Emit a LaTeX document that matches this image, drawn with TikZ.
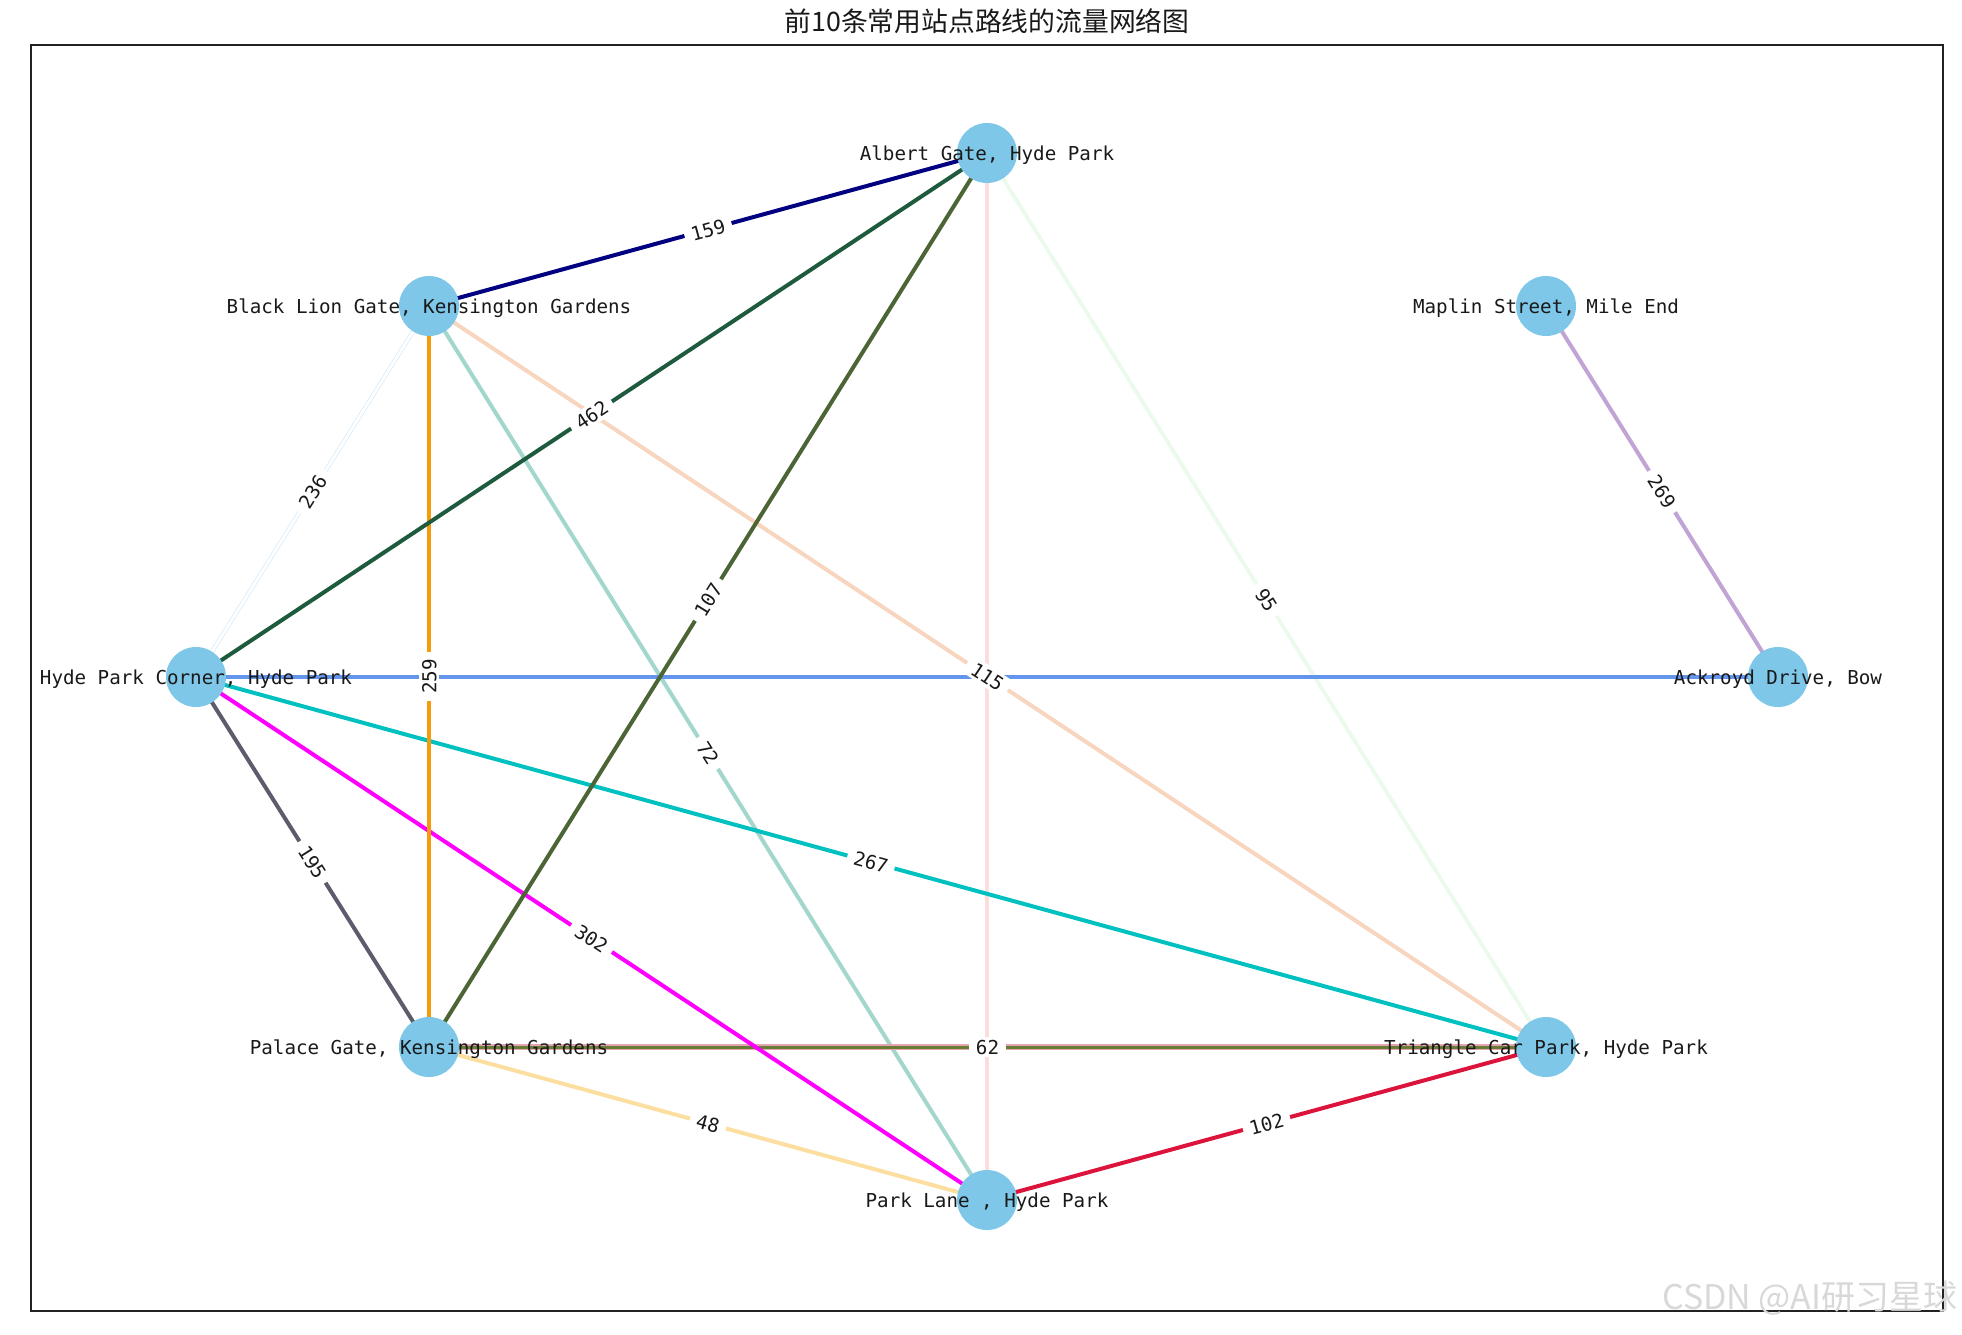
\documentclass[tikz,border=0pt]{standalone}
\usepackage{fontspec}
\setmonofont{DejaVu Sans Mono}
\newfontfamily\cjk{Noto Sans CJK SC}
\definecolor{nodeblue}{HTML}{7EC7E8}
\definecolor{cNavy}{HTML}{000080}
\definecolor{cDkGreen}{HTML}{1E5B3E}
\definecolor{cOlive}{HTML}{4B6535}
\definecolor{cRose}{HTML}{FCDCDC}
\definecolor{cHoney}{HTML}{ECFAEC}
\definecolor{cAlice}{HTML}{D4EAFA}
\definecolor{cOrange}{HTML}{F59B0C}
\definecolor{cTeal}{HTML}{A3D6CC}
\definecolor{cPeach}{HTML}{F8D5BF}
\definecolor{cLav}{HTML}{C0A4D6}
\definecolor{cCorn}{HTML}{6495ED}
\definecolor{cCyan}{HTML}{00C0C0}
\definecolor{cGray}{HTML}{5C5C6C}
\definecolor{cMag}{HTML}{FF00FF}
\definecolor{cPink}{HTML}{E4A4B2}
\definecolor{cOlv}{HTML}{687C34}
\definecolor{cNavajo}{HTML}{FCDFA0}
\definecolor{cCrimson}{HTML}{DC143C}
\definecolor{frame}{HTML}{222222}
\definecolor{wm}{HTML}{D8D8D8}
\tikzset{
  edge/.style={line width=2pt},
  stn/.style={circle, fill=nodeblue, draw=none, minimum size=30pt, inner sep=0pt},
  nlab/.style={font=\ttfamily\fontsize{9.6}{11}\selectfont, text=black!90, text height=0.73em, text depth=0pt, inner sep=0pt, anchor=center},
  elab/.style={sloped, fill=white, inner xsep=3.5pt, inner ysep=1.5pt, font=\ttfamily\fontsize{9.6}{11}\selectfont, text=black!90, text height=0.73em, text depth=0pt, anchor=center}
}
\begin{document}
\begin{tikzpicture}[x=0.5pt,y=-0.5pt]
\useasboundingbox (0,0) rectangle (1962,1334);
% node centres
\coordinate (A) at (987,153);
\coordinate (BL) at (429,306);
\coordinate (MS) at (1546,306);
\coordinate (HPC) at (196,677);
\coordinate (AD) at (1778,677);
\coordinate (PG) at (429,1047);
\coordinate (TC) at (1546,1047);
\coordinate (PL) at (987,1200);
% frame and title
\draw[frame, line width=1pt] (31,45) rectangle (1943,1311);
\node[font=\cjk\fontsize{13.4}{15}\selectfont, text=black!90, anchor=center] (title) at (987,21) {前10条常用站点路线的流量网络图};
% edges
\draw[edge, cAlice, line width=0.35pt, double=white, double distance=1.4pt] (BL) -- (HPC);
\draw[edge, cHoney] (A) -- (TC);
\draw[edge, cRose] (A) -- (PL);
\draw[edge, cPeach] (BL) -- (TC);
\draw[edge, cTeal] (BL) -- (PL);
\draw[edge, cNavajo] (PG) -- (PL);
\draw[edge, cLav] (MS) -- (AD);
\draw[edge, cCorn] (HPC) -- (AD);
\draw[edge, cPink, line width=2.6pt] (PG) -- (TC);
\draw[edge, cOlv, line width=1.5pt] (PG) -- (TC);
\draw[edge, cCyan] (HPC) -- (TC);
\draw[edge, cMag] (HPC) -- (PL);
\draw[edge, cGray] (HPC) -- (PG);
\draw[edge, cOrange] (PG) -- (BL);
\draw[edge, cDkGreen] (HPC) -- (A);
\draw[edge, cOlive] (PG) -- (A);
\draw[edge, cNavy] (BL) -- (A);
\draw[edge, cCrimson] (PL) -- (TC);
% stations
\node[stn] (nA) at (A) {};
\node[stn] (nBL) at (BL) {};
\node[stn] (nMS) at (MS) {};
\node[stn] (nHPC) at (HPC) {};
\node[stn] (nAD) at (AD) {};
\node[stn] (nPG) at (PG) {};
\node[stn] (nTC) at (TC) {};
\node[stn] (nPL) at (PL) {};
% station labels
\node[nlab] (tA) at (A) {Albert Gate, Hyde Park};
\node[nlab] (tBL) at (BL) {Black Lion Gate, Kensington Gardens};
\node[nlab] (tMS) at (MS) {Maplin Street, Mile End};
\node[nlab] (tHPC) at (HPC) {Hyde Park Corner, Hyde Park};
\node[nlab] (tAD) at (AD) {Ackroyd Drive, Bow};
\node[nlab] (tPG) at (PG) {Palace Gate, Kensington Gardens};
\node[nlab] (tTC) at (TC) {Triangle Car Park, Hyde Park};
\node[nlab] (tPL) at (PL) {Park Lane , Hyde Park};
% edge labels
\path (BL) -- node[elab] (l159) {159} (A);
\path (HPC) -- node[elab] (l462) {462} (A);
\path (PG) -- node[elab] (l107) {107} (A);
\path (A) -- node[elab] (l95) {95} (TC);
\path (BL) -- node[elab] (l236) {236} (HPC);
\path (PG) -- node[elab] (l259) {259} (BL);
\path (BL) -- node[elab] (l72) {72} (PL);
\path (BL) -- node[elab] (l115) {115} (TC);
\path (MS) -- node[elab] (l269) {269} (AD);
\path (HPC) -- node[elab] (l267) {267} (TC);
\path (HPC) -- node[elab] (l195) {195} (PG);
\path (HPC) -- node[elab] (l302) {302} (PL);
\path (PG) -- node[elab] (l62) {62} (TC);
\path (PG) -- node[elab] (l48) {48} (PL);
\path (PL) -- node[elab] (l102) {102} (TC);
% watermark
\node[font=\cjk\fontsize{17}{19}\selectfont, text=wm, anchor=east, inner sep=0pt] (wmk) at (1958,1298) {CSDN @AI研习星球};
\end{tikzpicture}
\end{document}
